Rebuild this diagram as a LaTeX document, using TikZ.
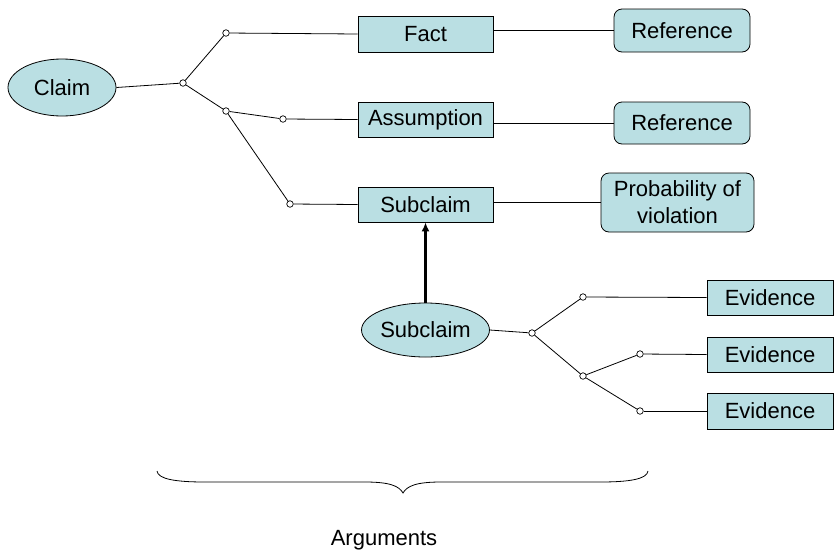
\documentclass[tikz,border=0pt]{standalone}
\usepackage{fontspec}
\setmainfont{Liberation Sans}
\usetikzlibrary{shapes.geometric,arrows.meta}
\definecolor{boxfill}{RGB}{186,223,227}
\tikzset{
  every node/.style={font=\fontsize{22}{27}\selectfont, inner sep=0pt},
  link/.style={line width=0.8pt, draw=black},
  claimnode/.style={ellipse, draw, line width=0.8pt, fill=boxfill},
  boxnode/.style={rectangle, draw, line width=0.8pt, fill=boxfill},
  refnode/.style={rectangle, rounded corners=8pt, draw, line width=0.8pt, fill=boxfill, align=center},
  dot/.style={circle, draw, line width=0.7pt, fill=white, minimum size=6.5pt},
}
\begin{document}
\begin{tikzpicture}[x=1pt,y=-1pt]
\useasboundingbox (0,0) rectangle (834,552);

% main claim and its argument tree
\node[claimnode, minimum width=108pt, minimum height=57pt] (claim) at (62,87.5) {Claim};
\node[dot] (j1) at (183,83) {};
\node[dot] (j2) at (226,33) {};
\node[dot] (j3) at (226,111) {};
\node[dot] (j4) at (283,119) {};
\node[dot] (j5) at (290,204) {};

\node[boxnode, minimum width=135pt, minimum height=36pt] (fact) at (425.5,34) {Fact};
\node[boxnode, minimum width=135pt, minimum height=35pt] (assume) at (425.5,119.5) {Assumption};
\node[boxnode, minimum width=135pt, minimum height=35pt] (subbox) at (425.5,204.5) {Subclaim};

\node[refnode, minimum width=136pt, minimum height=43pt] (ref1) at (682,30.5) {Reference};
\node[refnode, minimum width=136pt, minimum height=42pt] (ref2) at (682,123) {Reference};
\node[refnode, minimum width=153pt, minimum height=59pt] (prob) at (677.5,202.5) {Probability of\\violation};

\draw[link] (claim.east) -- (j1);
\draw[link] (j1) -- (j2);
\draw[link] (j1) -- (j3);
\draw[link] (j3) -- (j4);
\draw[link] (j3) -- (j5);
\draw[link] (j2) -- (fact.west);
\draw[link] (j4) -- (assume.west);
\draw[link] (j5) -- (subbox.west);
\draw[link] (fact.east |- ref1.west) -- (ref1.west);
\draw[link] (assume.east |- ref2.west) -- (ref2.west);
\draw[link] (subbox.east |- prob.west) -- (prob.west);

% sub-claim supported by evidence
\node[claimnode, minimum width=107pt, minimum height=54pt] (subclaim) at (425.5,330) {Subclaim};
\node[dot] (j6) at (532,333) {};
\node[dot] (j7) at (583,297) {};
\node[dot] (j8) at (583,376) {};
\node[dot] (j9) at (640,354) {};
\node[dot] (j10) at (640,411) {};

\node[boxnode, minimum width=126pt, minimum height=35pt] (ev1) at (770,297.5) {Evidence};
\node[boxnode, minimum width=126pt, minimum height=35pt] (ev2) at (770,354.5) {Evidence};
\node[boxnode, minimum width=126pt, minimum height=36pt] (ev3) at (770,411) {Evidence};

\draw[link] (subclaim.east) -- (j6);
\draw[link] (j6) -- (j7);
\draw[link] (j6) -- (j8);
\draw[link] (j8) -- (j9);
\draw[link] (j8) -- (j10);
\draw[link] (j7) -- (ev1.west);
\draw[link] (j9) -- (ev2.west);
\draw[link] (j10) -- (ev3.west);

\draw[line width=2.6pt, -{Latex[length=9pt,width=8pt]}] (subclaim.north) -- (subbox.south);

% brace under the arguments
\coordinate (bl) at (157,471);
\coordinate (br) at (648,471);
\coordinate (btip) at (403,493);
\draw[line width=0.8pt]
  (bl) .. controls (158,479) and (175,482) .. (205,482)
  -- (365,482) .. controls (390,482) and (399,486) .. (btip)
  .. controls (407,486) and (416,482) .. (441,482)
  -- (600,482) .. controls (630,482) and (647,479) .. (br);
\node (args) at (384,540) {Arguments};
\end{tikzpicture}
\end{document}
